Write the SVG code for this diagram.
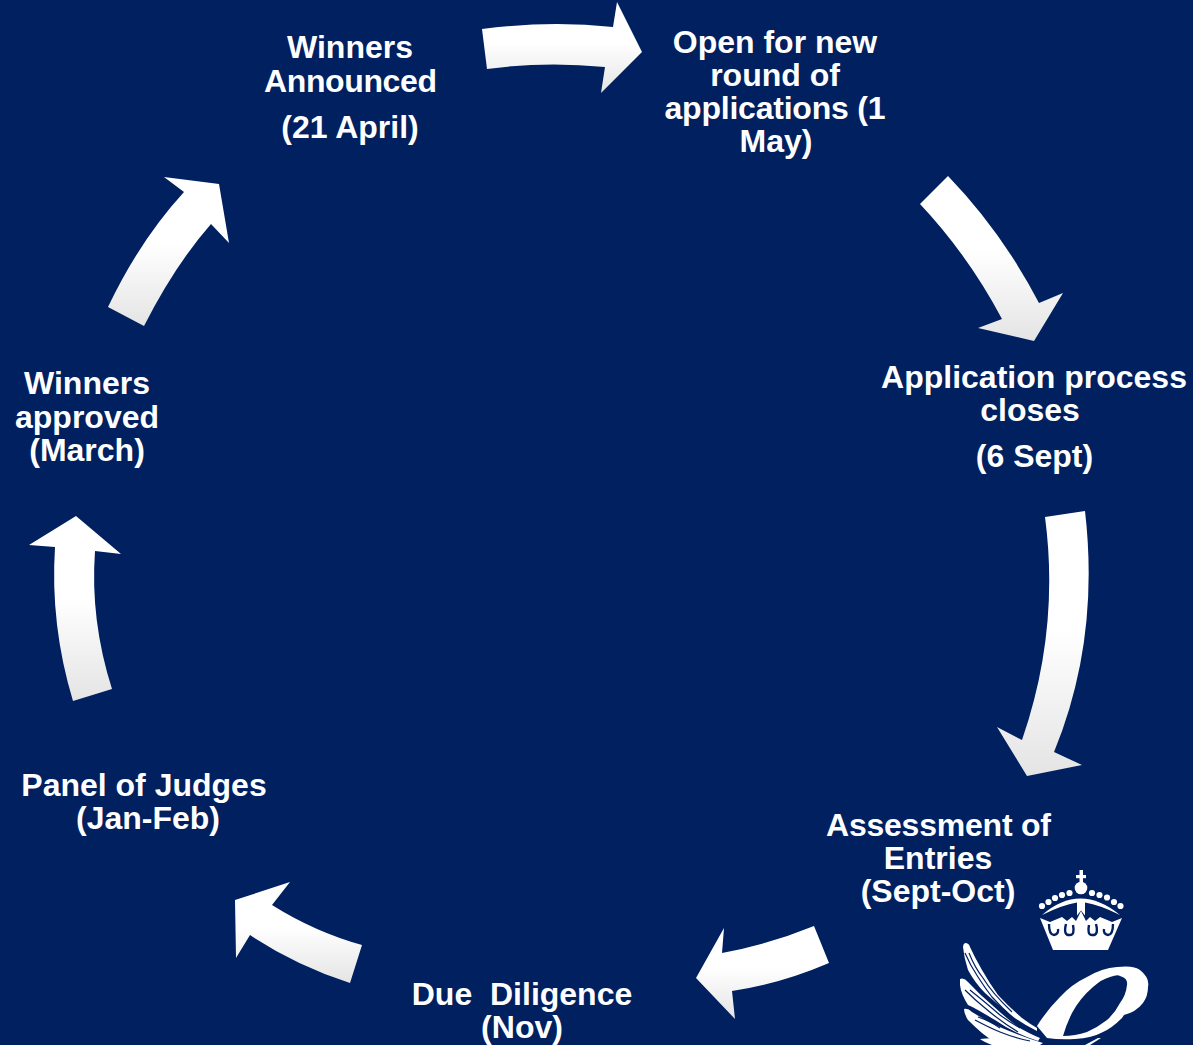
<svg xmlns="http://www.w3.org/2000/svg" width="1193" height="1045" viewBox="0 0 1193 1045">
<style>
.t{font-family:"Liberation Sans",Arial,sans-serif;font-weight:700;font-size:32px;fill:#fff;text-anchor:middle}
.a{fill:url(#g)}
.w{fill:#fff}
.d{fill:none;stroke:#002060}
</style>
<defs>
<linearGradient id="g" x1="0" y1="0" x2="0" y2="1"><stop offset="0" stop-color="#fff"/><stop offset="0.45" stop-color="#fff"/><stop offset="1" stop-color="#e4e4e4"/></linearGradient>
</defs>
<rect width="1193" height="1045" fill="#002060"/>
<g id="connectors">
<path class="a" d="M482 29Q550 20 613 27L617 2L642 52L601 93L605 67Q545 61 487 69Z"/>
<path class="a" d="M948 176Q1002 232 1039 303L1063 293L1034 341L978 328L1002 319Q968 255 920 204Z"/>
<path class="a" d="M1045 517L1085 511Q1100 640 1054 752L1082 765L1027 776L997 727L1022 740Q1060 630 1045 517Z"/>
<path class="a" d="M814 926L829 963Q780 984 732 991L735 1019L696 978L724 928L722 953Q770 944 814 926Z"/>
<path class="a" d="M362 945L350 983Q295 965 250 935L236 958L235 900L290 882L272 905Q315 932 362 945Z"/>
<path class="a" d="M73 701L112 689Q90 620 95 551L121 554L76 516L29 545L55 547Q50 625 73 701Z"/>
<path class="a" d="M108 307L144 326Q175 265 211 224L229 243L219 184L164 177L184 192Q140 240 108 307Z"/>
</g>
<g id="node-winners-announced"><text class="t" x="350" y="58">Winners</text><text class="t" x="350.500" y="92" textLength="173">Announced</text><text class="t" x="350" y="138">(21 April)</text></g>
<g id="node-open"><text class="t" x="775" y="53">Open for new</text><text class="t" x="775" y="86">round of</text><text class="t" x="775" y="119" textLength="221">applications (1</text><text class="t" x="776" y="152">May)</text></g>
<g id="node-closes"><text class="t" x="1034" y="388">Application process</text><text class="t" x="1030" y="421">closes</text><text class="t" x="1034.500" y="467">(6 Sept)</text></g>
<g id="node-assessment"><text class="t" x="938.500" y="836" textLength="225">Assessment of</text><text class="t" x="938" y="869">Entries</text><text class="t" x="938" y="902">(Sept-Oct)</text></g>
<g id="node-diligence"><text class="t" x="522" y="1005" xml:space="preserve">Due  Diligence</text><text class="t" x="522" y="1038">(Nov)</text></g>
<g id="node-judges"><text class="t" x="144" y="796">Panel of Judges</text><text class="t" x="148" y="829">(Jan-Feb)</text></g>
<g id="node-approved"><text class="t" x="87" y="394">Winners</text><text class="t" x="87" y="428">approved</text><text class="t" x="87" y="461">(March)</text></g>
<g id="emblem">
<g class="w">
<rect x="1079.500" y="870" width="3.500" height="13"/><rect x="1076" y="875" width="10" height="3.200"/>
<circle cx="1081" cy="888" r="6.300"/>
<circle cx="1042" cy="906" r="3.100"/><circle cx="1048.500" cy="902" r="3.100"/><circle cx="1055" cy="898" r="3.100"/><circle cx="1062" cy="895" r="3.100"/><circle cx="1069.500" cy="893" r="3.100"/>
<circle cx="1092" cy="893" r="3.100"/><circle cx="1099.500" cy="895" r="3.100"/><circle cx="1107" cy="897.500" r="3.100"/><circle cx="1114" cy="902" r="3.100"/><circle cx="1120.500" cy="906" r="3.100"/>
<path d="M1042 915Q1080 882 1120 915Q1100 905 1085 902.500V915.500L1081 910.500L1077 915.500V902.500Q1062 905 1042 915Z"/>
<path d="M1040 918L1050 922L1062 917L1067 921L1072 917L1076 921L1081 911L1086 921L1090 917L1095 921L1100 917L1112 922L1122 918L1108 950H1053Z"/>
</g>
<path class="d" stroke-width="2.400" d="M1049 924Q1049 935 1054 935Q1059 934 1058 929M1066 924Q1063 936 1070 935Q1075 935 1073 925M1089 925Q1087 935 1092 935Q1099 936 1096 924M1104 929Q1103 934 1108 935Q1113 935 1113 924"/>
<g class="w">
<path d="M965 943Q969 943 970 947Q975 958 982 970Q990 984 998 995Q1010 1008 1022 1018Q1030 1024 1037 1028L1037 1031Q1018 1022 1005 1010Q995 1002 985 993Q975 983 968 970Q964 958 963 947Q963 944 965 943Z"/>
<path d="M960 979Q964 977 968 982Q980 995 992 1005Q1005 1017 1018 1027Q1030 1034 1040 1038L1038 1041Q1015 1034 995 1020Q975 1008 968 1005Q961 994 960 985Z"/>
<path d="M964 1009Q968 1008 972 1012Q985 1020 995 1025Q1020 1036 1043 1043L1040 1045H1000Q990 1040 982 1033Q975 1027 968 1020Q964 1014 964 1009Z"/>
<path d="M980 1039Q995 1037 1005 1040L1017 1045H992Q984 1042 980 1039Z"/>
<path fill-rule="evenodd" d="M1037 1026Q1047 1010 1060 997Q1072 984 1087 977Q1102 968 1117 967Q1134 965 1140 970Q1150 978 1148 987Q1148 996 1143 1003Q1136 1012 1124 1015L1122 1018Q1112 1028 1103 1032Q1092 1038 1075 1039Q1060 1040 1047 1038ZM1063 1036Q1066 1025 1072 1013Q1080 998 1093 987Q1102 979 1110 977Q1118 974 1120 976Q1128 978 1127 985Q1126 995 1120 1003Q1115 1013 1107 1020Q1098 1027 1087 1032Q1075 1036 1063 1036Z"/>
<path d="M1085 1045L1098 1038L1101 1038L1090 1045Z"/>
</g>
<path class="d" stroke-width="1.200" d="M965 953Q970 965 978 977Q985 988 992 997Q1002 1008 1012 1017M969 953Q975 968 983 978Q992 993 1012 1012M965 990Q975 1000 985 1008Q1000 1021 1018 1032M970 990Q985 1002 1000 1015Q1008 1021 1020 1028M975 1020Q990 1028 1000 1032Q1015 1038 1030 1041M978 1017Q990 1021 1000 1028"/>
</g>
</svg>
